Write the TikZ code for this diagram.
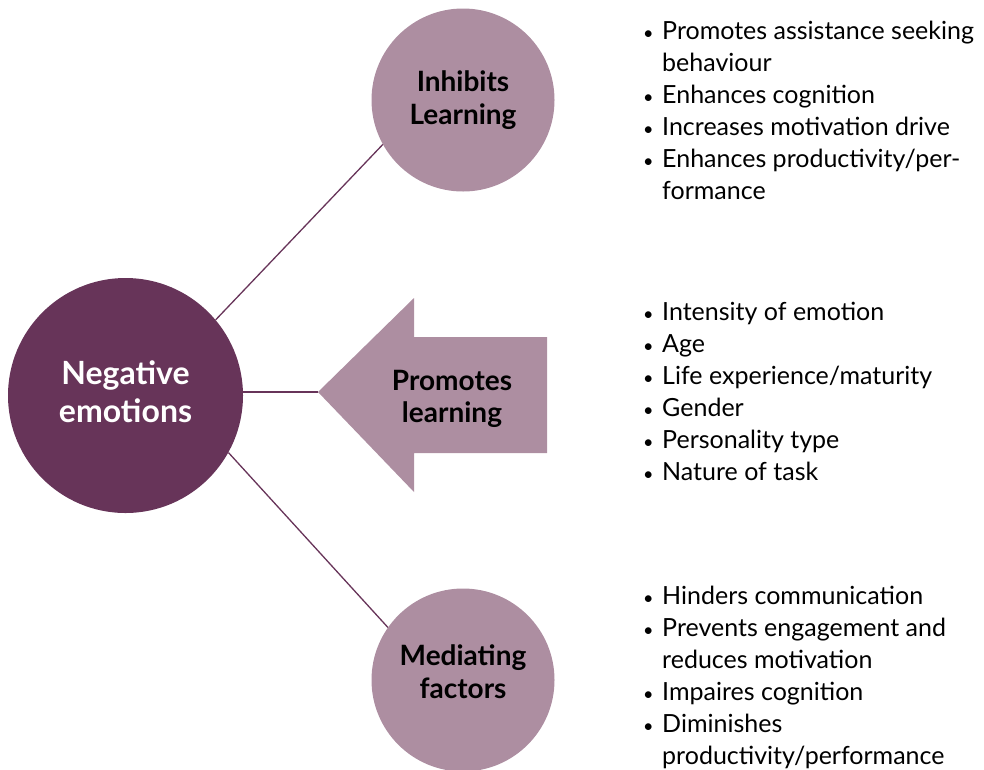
\documentclass[tikz,border=0pt]{standalone}
\usepackage{fontspec}
\setmainfont{Lato}
\usepackage{tikz}
\usetikzlibrary{positioning}
\definecolor{plum}{RGB}{103,52,89}
\definecolor{mauve}{RGB}{173,142,161}
\newcommand{\itm}[1]{\makebox[19pt][l]{\fontsize{18}{18}\selectfont\textbullet}#1}
\newcommand{\cnt}[1]{\hspace{19pt}#1}

\begin{document}
\begin{tikzpicture}[x=1pt,y=-1pt,
    bigdot/.style={circle,fill=plum,minimum size=235pt,inner sep=0pt},
    smalldot/.style={circle,fill=mauve,minimum size=183pt,inner sep=0pt},
    bigtxt/.style={text=white,align=center,font=\bfseries\fontsize{32}{38}\selectfont},
    smalltxt/.style={align=center,font=\bfseries\fontsize{28}{33}\selectfont},
    items/.style={anchor=west,align=left,inner sep=0pt,font=\fontsize{25}{32}\selectfont},
    link/.style={draw=plum,line width=1.3pt}]
    \useasboundingbox (0,0) rectangle (984,769);

    \node[bigdot] (neg) at (125.5,395.5) {};
    \node[smalldot] (inhib) at (463,100) {};
    \node[smalldot] (med) at (463,680) {};
    \node[bigtxt] (negtxt) at ([yshift=4pt]neg.center) {Negative\\emotions};
    \node[smalltxt] (inhibtxt) at (inhib.center) {Inhibits\\Learning};
    \node[smalltxt] (medtxt) at ([yshift=8pt]med.center) {Mediating\\factors};

    % arrow
    \fill[mauve] (318,392) -- (414,298) -- (414,337) -- (547,337) -- (547,453)
      -- (414,453) -- (414,492) -- cycle;
    \coordinate (tip) at (318,392);
    \node[smalltxt,font=\bfseries\fontsize{28}{32}\selectfont] (prom) at (452,399) {Promotes\\learning};

    \draw[link] (neg.40) -- (inhib.209);
    \draw[link] (neg.east |- tip) -- (tip);
    \draw[link] (neg.-29) -- (med.145);

    \node[items] (L1) at (643,110.5) {\itm{Promotes assistance seeking}\\
      \cnt{behaviour}\\ \itm{Enhances cognition}\\ \itm{Increases motivation drive}\\
      \itm{Enhances productivity/per-}\\ \cnt{formance}};
    \node[items] (L2) at (643,391) {\itm{Intensity of emotion}\\ \itm{Age}\\
      \itm{Life experience/maturity}\\ \itm{Gender}\\ \itm{Personality type}\\
      \itm{Nature of task}};
    \node[items] (L3) at (643,677) {\itm{Hinders communication}\\
      \itm{Prevents engagement and}\\ \cnt{reduces motivation}\\ \itm{Impaires cognition}\\
      \itm{Diminishes}\\ \cnt{productivity/performance}};
\end{tikzpicture}
\end{document}
